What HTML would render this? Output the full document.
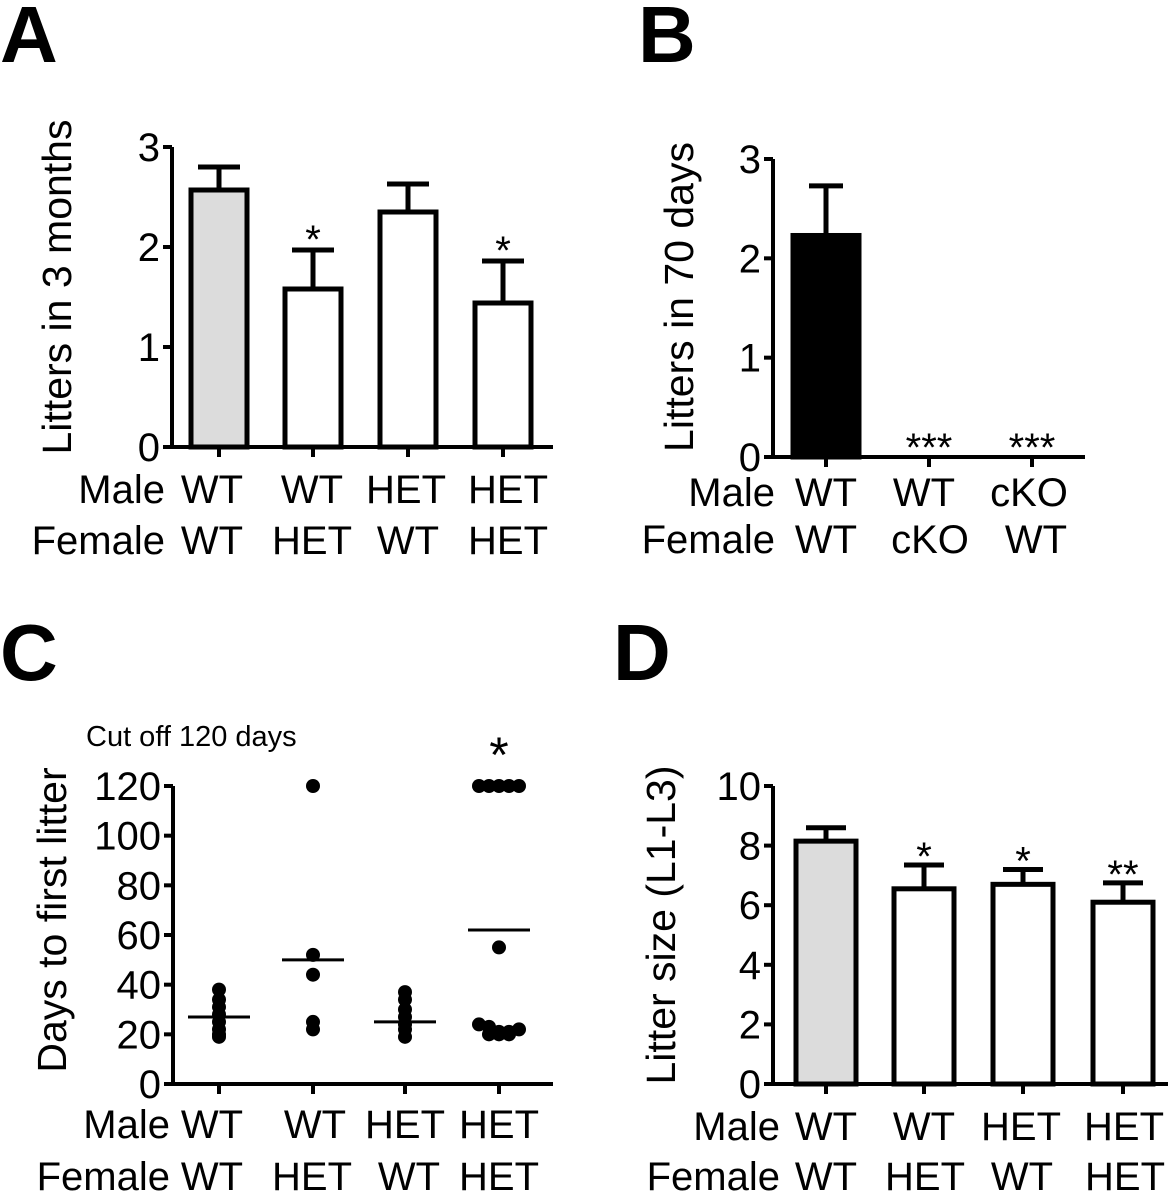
<!DOCTYPE html>
<html><head><meta charset="utf-8">
<style>
html,body{margin:0;padding:0;background:#fff;}
svg{display:block;font-family:"Liberation Sans",Arial,sans-serif;}
</style></head>
<body>
<svg id="fig" width="1175" height="1192" viewBox="0 0 1175 1192">
  <text x="0" y="62" font-size="80" font-weight="bold">A</text>
  <text x="638" y="62" font-size="80" font-weight="bold">B</text>
  <text x="0" y="680" font-size="80" font-weight="bold">C</text>
  <text x="613" y="680" font-size="80" font-weight="bold">D</text>
  <text x="86" y="746" font-size="29">Cut off 120 days</text>
  <g id="pA"></g>
  <g id="pB"></g>
  <g id="pC"></g>
  <g id="pD"></g>
</svg>
<script>
// Panel A data
const aValues = [2.57, 1.58, 2.35, 1.44];
const aErrors = [0.23, 0.39, 0.28, 0.42];
const aStars = ["", "*", "", "*"];
const aTicks = [0, 1, 2, 3];
// Panel B data
const bValues = [2.23, 0, 0];
const bErrors = [0.5, 0, 0];
const bStars = ["", "***", "***"];
const bTicks = [0, 1, 2, 3];
// Panel C data
const cGroup1 = [38, 34, 31, 28, 25, 22, 20, 19];
const cGroup2 = [120, 52, 44, 25, 22];
const cGroup3 = [37, 34, 30, 27, 24, 22, 19];
const cGroup4 = [120, 120, 120, 120, 120, 55, 24, 23, 21, 20, 20, 20, 21, 22];
const cMeans = [27, 50, 25, 62];
const cTicks = [0, 20, 40, 60, 80, 100, 120];
// Panel D data
const dValues = [8.15, 6.55, 6.7, 6.1];
const dErrors = [0.45, 0.8, 0.5, 0.65];
const dStars = ["", "*", "*", "**"];
const dTicks = [0, 2, 4, 6, 8, 10];

const NS = "http://www.w3.org/2000/svg";
function mk(parent, tag, attrs, txt) {
  const e = document.createElementNS(NS, tag);
  for (const k in attrs) e.setAttribute(k, attrs[k]);
  if (txt !== undefined) e.textContent = txt;
  parent.appendChild(e);
  return e;
}

function axes(g, o) {
  const y = v => o.y0 - (v - o.min) / (o.max - o.min) * (o.y0 - o.y1);
  const ax = mk(g, "path", {d: `M${o.x0} ${o.y1} V${o.y0} H${o.xEnd}`, fill: "none", stroke: "#000", "stroke-width": 4});
  
  
  o.ticks.forEach(t => {
    const tl = mk(g, "line", {x1: o.x0 - 9, x2: o.x0, y1: y(t), y2: y(t), stroke: "#000", "stroke-width": 4});
    
    
    const tx = mk(g, "text", {x: o.x0 - 12, y: y(t) + 14, "font-size": 40, "text-anchor": "end"}, String(t));
    
    
  });
  o.xs.forEach(x => {
    const tl = mk(g, "line", {x1: x, x2: x, y1: o.y0, y2: o.y0 + 10, stroke: "#000", "stroke-width": 4});
    
    
  });
  const tt = mk(g, "text", {x: 0, y: 0, "font-size": 41, "text-anchor": "middle", transform: `translate(${o.titleX},${o.titleY}) rotate(-90)`}, o.title);
  
  
  o.rowLabels.forEach(l => {
    const t = mk(g, "text", {x: l[1], y: l[2], "font-size": 40, "text-anchor": "end"}, l[0]);
    
    
  });
  o.labels.forEach(l => {
    const t = mk(g, "text", {x: l[1], y: l[2], "font-size": 40, "text-anchor": "middle"}, l[0]);
    
    
  });
  return y;
}

function bars(g, o, y, vals, errs, stars, fills, bw, cap, starSize, gap) {
  vals.forEach((v, i) => {
    const x = o.xs[i];
    if (v > 0) {
      if (errs[i] > 0) {
        const el = mk(g, "path", {d: `M${x} ${y(v)} V${y(v + errs[i])} M${x - cap / 2} ${y(v + errs[i])} H${x + cap / 2}`, stroke: "#000", "stroke-width": 5, fill: "none"});
        
        
      }
      const r = mk(g, "rect", {x: x - bw / 2, y: y(v), width: bw, height: y(0) - y(v), fill: fills[i], stroke: "#000", "stroke-width": 5});
      
      
    }
    if (stars[i]) {
      const top = v + errs[i];
      const s = mk(g, "text", {x: x, y: y(top) - gap + starSize * 0.58, "font-size": starSize, "text-anchor": "middle"}, stars[i]);
      
      
    }
  });
}

// Panel A
(function(){
  const g = document.getElementById("pA");
  const o = {x0: 172, y0: 447, y1: 147, min: 0, max: 3, xEnd: 553, xs: [219, 313, 408, 503], ticks: aTicks,
    title: "Litters in 3 months", titleX: 71, titleY: 287,
    rowLabels: [["Male",165,503],["Female",165,554]],
    labels: [["WT",212,503],["WT",312,503],["HET",406,503],["HET",508,503],
             ["WT",212,554],["HET",312,554],["WT",408,554],["HET",508,554]]};
  const y = axes(g, o);
  bars(g, o, y, aValues, aErrors, aStars, ["#dcdcdc","#fff","#fff","#fff"], 56, 42, 40, 20);
})();
// Panel B
(function(){
  const g = document.getElementById("pB");
  const o = {x0: 773, y0: 457, y1: 159, min: 0, max: 3, xEnd: 1085, xs: [826, 929, 1032], ticks: bTicks,
    title: "Litters in 70 days", titleX: 693, titleY: 297,
    rowLabels: [["Male",775,506],["Female",775,553]],
    labels: [["WT",826,506],["WT",924,506],["cKO",1029,506],
             ["WT",826,553],["cKO",930,553],["WT",1036,553]]};
  const y = axes(g, o);
  bars(g, o, y, bValues, bErrors, bStars, ["#000","#000","#000"], 66, 34, 40, 19);
})();
// Panel C
(function(){
  const g = document.getElementById("pC");
  const o = {x0: 173, y0: 1084, y1: 786, min: 0, max: 120, xEnd: 553, xs: [219, 313, 405, 499], ticks: cTicks,
    title: "Days to first litter", titleX: 66, titleY: 920,
    rowLabels: [["Male",170,1138],["Female",170,1190]],
    labels: [["WT",212,1138],["WT",315,1138],["HET",405,1138],["HET",499,1138],
             ["WT",212,1190],["HET",312,1190],["WT",409,1190],["HET",499,1190]]};
  const y = axes(g, o);
  const groups = [cGroup1, cGroup2, cGroup3, cGroup4];
  const binSize = [1, 1, 1, 6];
  groups.forEach((grp, gi) => {
    const cx = o.xs[gi];
    const bs = binSize[gi];
    const seen = {};
    grp.forEach(v => { const b = Math.round(v / bs); seen[b] = (seen[b] || 0) + 1; });
    const idx = {};
    grp.forEach(v => {
      const b = Math.round(v / bs);
      const n = seen[b];
      idx[b] = (idx[b] || 0);
      const k = idx[b]++;
      const off = (k - (n - 1) / 2) * 10;
      const c = mk(g, "circle", {cx: cx + off, cy: y(v), r: 7, fill: "#000"});
      
      
    });
    const m = mk(g, "line", {x1: cx - 31, x2: cx + 31, y1: y(cMeans[gi]), y2: y(cMeans[gi]), stroke: "#000", "stroke-width": 3});
    
    
  });
  const s = mk(g, "text", {x: o.xs[3], y: 772, "font-size": 50, "text-anchor": "middle"}, "*");
  
  
})();
// Panel D
(function(){
  const g = document.getElementById("pD");
  const o = {x0: 773, y0: 1084, y1: 786, min: 0, max: 10, xEnd: 1168, xs: [826, 924, 1023, 1123], ticks: dTicks,
    title: "Litter size (L1-L3)", titleX: 675, titleY: 925,
    rowLabels: [["Male",780,1140],["Female",780,1190]],
    labels: [["WT",826,1140],["WT",924,1140],["HET",1021,1140],["HET",1124,1140],
             ["WT",826,1190],["HET",925,1190],["WT",1022,1190],["HET",1125,1190]]};
  const y = axes(g, o);
  bars(g, o, y, dValues, dErrors, dStars, ["#dcdcdc","#fff","#fff","#fff"], 60, 40, 40, 18);
})();
</script>
</body></html>
